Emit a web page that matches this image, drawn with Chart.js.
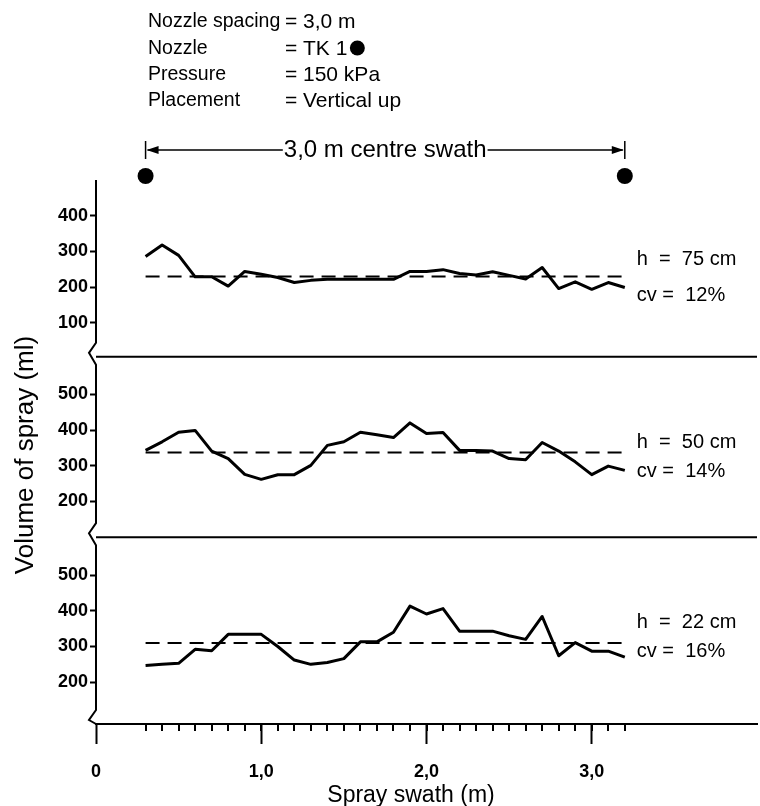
<!DOCTYPE html>
<html>
<head>
<meta charset="utf-8">
<script src="https://cdn.jsdelivr.net/npm/chart.js@4.4.1/dist/chart.umd.min.js"></script>
<style>
  body { margin: 0; background: #fff; }
  #wrap { width: 760px; height: 806px; }
</style>
</head>
<body>
<div id="wrap"><canvas id="sprayChart" width="760" height="806"></canvas></div>
<script>
// sampling points across the swath (m)
const swathPos = [0.3, 0.4, 0.5, 0.6, 0.7, 0.8, 0.9, 1.0, 1.1, 1.2, 1.3, 1.4, 1.5, 1.6, 1.7,
                  1.8, 1.9, 2.0, 2.1, 2.2, 2.3, 2.4, 2.5, 2.6, 2.7, 2.8, 2.9, 3.0, 3.1, 3.2];

// volume of spray (ml) for each boom height
const vol75 = [286, 318, 289, 229, 229, 203, 244, 236, 227, 213, 219, 222, 222, 222, 222,
               222, 244, 244, 249, 238, 234, 243, 233, 223, 255, 196, 215, 194, 213, 199];
const vol50 = [343, 367, 394, 399, 341, 320, 276, 262, 275, 275, 301, 357, 367, 394, 387,
               379, 420, 390, 393, 343, 343, 341, 320, 317, 365, 341, 311, 275, 299, 287];
const vol22 = [247, 250, 253, 292, 288, 334, 334, 334, 300, 262, 250, 255, 266, 313, 313,
               340, 413, 391, 406, 343, 343, 343, 330, 320, 384, 274, 311, 287, 287, 270];
const meanVol = [230, 337, 310];

const heightLabels = ['h  =  75 cm', 'h  =  50 cm', 'h  =  22 cm'];
const cvLabels = ['cv =  12%', 'cv =  14%', 'cv =  16%'];

const nozzlePos = [0.3, 3.2];
const xTicks = [0, 1, 2, 3];
const xTickLabels = ['0', '1,0', '2,0', '3,0'];
const yTicks75 = [100, 200, 300, 400];
const yTicks50 = [200, 300, 400, 500];
const yTicks22 = [200, 300, 400, 500];

const headerNames = ['Nozzle spacing', 'Nozzle', 'Pressure', 'Placement'];
const headerValues = ['3,0 m', 'TK 1', '150 kPa', 'Vertical up'];

const FONT = '"Liberation Sans", Arial, Helvetica, sans-serif';
Chart.defaults.font.family = FONT;
Chart.defaults.color = '#000';

function pts(vals) {
  return swathPos.map((x, i) => ({ x: x, y: vals[i] }));
}

function lineSet(vals, axis) {
  return {
    data: pts(vals), yAxisID: axis,
    borderColor: '#000', borderWidth: 3, pointRadius: 0,
    tension: 0, borderJoinStyle: 'round'
  };
}

function meanSet(m, axis) {
  return {
    data: [{ x: swathPos[0], y: m }, { x: swathPos[swathPos.length - 1], y: m }],
    yAxisID: axis,
    borderColor: '#000', borderWidth: 2, borderDash: [14, 8], pointRadius: 0
  };
}

function yAxis(min, max, ticks) {
  return {
    type: 'linear', position: 'left', stack: 'panels', stackWeight: max - min,
    min: min, max: max,
    afterBuildTicks: s => { s.ticks = ticks.map(v => ({ value: v })); },
    afterFit: s => { s.width = 96; },
    border: { display: false },
    grid: { drawOnChartArea: false, tickLength: 6, tickWidth: 2, tickColor: '#000' },
    ticks: { font: { size: 18, weight: 'bold' }, padding: 2, color: '#000' }
  };
}

const decor = {
  id: 'decor',
  afterDraw(chart) {
    const { ctx, chartArea: area, scales } = chart;
    const xs = scales.x;
    const panels = [scales.yTop, scales.yMid, scales.yBot];
    ctx.save();
    ctx.strokeStyle = '#000';
    ctx.fillStyle = '#000';
    ctx.lineWidth = 2;

    // separators between panels
    ctx.beginPath();
    [panels[0].bottom, panels[1].bottom].forEach(b => {
      ctx.moveTo(area.left, b);
      ctx.lineTo(area.right, b);
    });
    ctx.stroke();

    // broken y axis
    const ax = area.left;
    ctx.beginPath();
    ctx.moveTo(ax, area.top);
    panels.forEach((p, i) => {
      const b = p.bottom;
      ctx.lineTo(ax, b - 14);
      ctx.lineTo(ax - 7, b - 4);
      ctx.lineTo(ax, i < 2 ? b + 8 : b);
    });
    ctx.stroke();

    // small ticks at the sampling points
    ctx.beginPath();
    swathPos.forEach(v => {
      const px = Math.round(xs.getPixelForValue(v));
      ctx.moveTo(px, area.bottom);
      ctx.lineTo(px, area.bottom + 7);
    });
    ctx.stroke();

    // h / cv labels per panel
    ctx.font = '20px ' + FONT;
    ctx.textBaseline = 'middle';
    ctx.textAlign = 'left';
    const lx = xs.getPixelForValue(swathPos[swathPos.length - 1]) + 12;
    const hOff = [-17, -10, -20];
    const cvOff = [19, 19, 9];
    panels.forEach((p, i) => {
      const my = p.getPixelForValue(meanVol[i]);
      ctx.fillText(heightLabels[i], lx, my + hOff[i]);
      ctx.fillText(cvLabels[i], lx, my + cvOff[i]);
    });

    // axis titles
    ctx.font = '23px ' + FONT;
    ctx.textAlign = 'center';
    ctx.fillText('Spray swath (m)', 411, 796);
    ctx.save();
    ctx.translate(26, 455);
    ctx.rotate(-Math.PI / 2);
    ctx.font = '26px ' + FONT;
    ctx.fillText('Volume of spray (ml)', 0, 0);
    ctx.restore();

    // header block
    ctx.textAlign = 'left';
    const rowY = [22, 49, 75, 101];
    headerNames.forEach((n, i) => {
      ctx.font = '19.5px ' + FONT;
      ctx.fillText(n, 148, rowY[i]);
      ctx.font = '21px ' + FONT;
      ctx.fillText('=', 285, rowY[i]);
      ctx.fillText(headerValues[i], 303, rowY[i]);
      if (i === 1) {
        const w = ctx.measureText(headerValues[i]).width;
        ctx.beginPath();
        ctx.arc(303 + w + 10, rowY[i] - 1, 7.5, 0, Math.PI * 2);
        ctx.fill();
      }
    });

    // centre swath arrow
    const x0 = xs.getPixelForValue(nozzlePos[0]);
    const x1 = xs.getPixelForValue(nozzlePos[1]);
    const ay = 150;
    ctx.font = '24px ' + FONT;
    const label = '3,0 m centre swath';
    const tw = ctx.measureText(label).width;
    const mid = (x0 + x1) / 2;
    ctx.textAlign = 'center';
    ctx.fillText(label, mid, ay);
    ctx.lineWidth = 1.5;
    ctx.beginPath();
    ctx.moveTo(x0, ay - 9); ctx.lineTo(x0, ay + 9);
    ctx.moveTo(x1, ay - 9); ctx.lineTo(x1, ay + 9);
    ctx.moveTo(x0 + 2, ay); ctx.lineTo(mid - tw / 2 - 1, ay);
    ctx.moveTo(mid + tw / 2 + 1, ay); ctx.lineTo(x1 - 2, ay);
    ctx.stroke();
    ctx.beginPath();
    ctx.moveTo(x0 + 1, ay); ctx.lineTo(x0 + 13, ay - 4); ctx.lineTo(x0 + 13, ay + 4); ctx.closePath();
    ctx.moveTo(x1 - 1, ay); ctx.lineTo(x1 - 13, ay - 4); ctx.lineTo(x1 - 13, ay + 4); ctx.closePath();
    ctx.fill();

    // nozzle dots
    nozzlePos.forEach(v => {
      ctx.beginPath();
      ctx.arc(xs.getPixelForValue(v), 176, 8, 0, Math.PI * 2);
      ctx.fill();
    });
    ctx.restore();
  }
};

new Chart(document.getElementById('sprayChart'), {
  type: 'line',
  data: {
    datasets: [
      lineSet(vol75, 'yTop'), meanSet(meanVol[0], 'yTop'),
      lineSet(vol50, 'yMid'), meanSet(meanVol[1], 'yMid'),
      lineSet(vol22, 'yBot'), meanSet(meanVol[2], 'yBot')
    ]
  },
  options: {
    responsive: false,
    animation: false,
    layout: { padding: { top: 180, right: 3, left: 0, bottom: 0 } },
    plugins: { legend: { display: false }, tooltip: { enabled: false } },
    scales: {
      x: {
        type: 'linear', min: 0, max: 4,
        afterBuildTicks: s => { s.ticks = xTicks.map(v => ({ value: v })); },
        afterFit: s => { s.height = 82; },
        border: { display: true, color: '#000', width: 2 },
        grid: { drawOnChartArea: false, tickLength: 20, tickWidth: 2, tickColor: '#000' },
        ticks: {
          callback: v => xTickLabels[xTicks.indexOf(v)],
          font: { size: 18, weight: 'bold' }, padding: 17,
          maxRotation: 0, autoSkip: false, color: '#000'
        }
      },
      yBot: yAxis(83, 606, yTicks22),
      yMid: yAxis(100, 605, yTicks50),
      yTop: yAxis(5, 500, yTicks75)
    }
  },
  plugins: [decor]
});
</script>
</body>
</html>
